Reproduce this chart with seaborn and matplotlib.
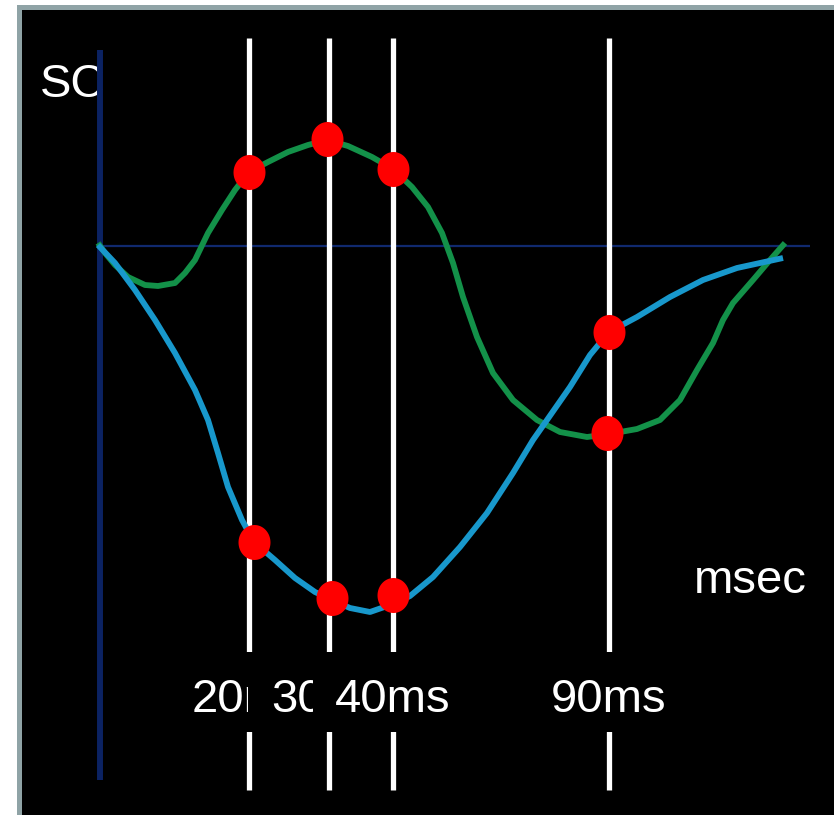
import numpy as np
import seaborn as sns
import matplotlib.pyplot as plt
from matplotlib.path import Path
from matplotlib.patches import Rectangle

# Horizontal positions are measured from the vertical axis, SC from the baseline.
green_t = [-2, 5, 15, 28, 45, 58, 75, 85, 95, 108, 122, 135, 149, 168, 188, 208, 227,
           248, 272, 293, 312, 328, 342, 353, 363, 377, 393, 413, 437, 460, 487, 509,
           537, 560, 580, 597, 613, 623, 633, 653, 670, 685]
green_sc = [3, -7, -19, -31, -39, -40, -37, -27, -14, 13, 36, 56, 74, 84, 94, 101, 106,
            100, 89, 77, 59, 39, 13, -17, -51, -91, -127, -154, -174, -186, -191, -188,
            -183, -174, -154, -124, -97, -74, -57, -34, -14, 3]

blue_t = [-2, 15, 35, 55, 75, 95, 108, 118, 128, 142, 154, 175, 195, 215, 232, 250, 270,
          293, 310, 333, 360, 387, 413, 433, 447, 470, 490, 509, 537, 570, 603, 637, 683]
blue_sc = [1, -17, -44, -74, -107, -144, -174, -207, -241, -274, -296, -314, -332, -346,
           -354, -362, -366, -358, -350, -331, -301, -267, -227, -194, -174, -141, -109,
           -86, -71, -51, -34, -22, -12]

cursor_labels = ["20ms", "30ms", "40ms", "90ms"]
cursor_t = [149, 229, 293, 509]

green_pts_t = [149, 227, 293, 507]
green_pts_sc = [74, 107, 77, -187]
blue_pts_t = [154, 232, 293, 509]
blue_pts_sc = [-296, -352, -349, -86]

GREEN = "#139149"
BLUE = "#1898cc"
NAVY = "#0b2262"

sns.set_theme(style="dark")
plt.rcParams["font.family"] = ["Liberation Sans", "DejaVu Sans"]

fig = plt.figure(figsize=(8.34, 8.15), dpi=100, facecolor="white")
fig.patches.append(Rectangle((17 / 834, 0), 1, 810 / 815, transform=fig.transFigure,
                             facecolor="#8fa3a6", edgecolor="none", zorder=-1))
ax = fig.add_axes([22 / 834, 0, 812 / 834, 805 / 815])
ax.set_zorder(1)
ax.set_facecolor("black")
ax.set_xlim(-78, 734)
ax.set_ylim(-569, 236)
ax.set_xticks([])
ax.set_yticks([])
for sp in ax.spines.values():
    sp.set_visible(False)
ax.grid(False)

# axes drawn by hand
ax.vlines(0, -534, 196, color=NAVY, linewidth=4.3, zorder=1)
ax.hlines(0, 0, 710, color="#10296e", linewidth=1.6, zorder=1)

# time cursors
ax.vlines(cursor_t, -544, 208, color="white", linewidth=3.8, zorder=2)

for ts, vals, col in [(green_t, green_sc, GREEN), (blue_t, blue_sc, BLUE)]:
    sns.lineplot(x=ts, y=vals, sort=False, color=col, linewidth=4.2,
                 solid_capstyle="butt", solid_joinstyle="round", ax=ax, zorder=3)

theta = np.linspace(0, 2 * np.pi, 65)
dot = Path(np.column_stack([0.457 * np.cos(theta), 0.5 * np.sin(theta)]), closed=True)
for xs, ys in [(green_pts_t, green_pts_sc), (blue_pts_t, blue_pts_sc)]:
    sns.scatterplot(x=xs, y=ys, marker=dot, s=635, color="#ff0000", linewidth=0,
                    ax=ax, zorder=4)


def label_box(x0, y0, width, height, mutation_size):
    px = 0.48 * mutation_size
    pb = 0.21 * mutation_size
    pt = 0.55 * mutation_size
    verts = [(x0 - px, y0 - pb), (x0 + width + px, y0 - pb),
             (x0 + width + px, y0 + height + pt), (x0 - px, y0 + height + pt),
             (x0 - px, y0 - pb)]
    return Path(verts, closed=True)


for i, (t, lab) in enumerate(zip(cursor_t, cursor_labels)):
    ax.text(t, -466, lab, ha="center", va="baseline", fontsize=34, color="white",
            bbox=dict(boxstyle=label_box, facecolor="black", edgecolor="none"),
            zorder=5 + i)

ax.text(-60, 149, "SC", ha="left", va="baseline", fontsize=34, color="white", zorder=0.5)
ax.text(594, -347, "msec", ha="left", va="baseline", fontsize=34, color="white", zorder=5)

fig.savefig("out.png", dpi=100, facecolor=fig.get_facecolor())
